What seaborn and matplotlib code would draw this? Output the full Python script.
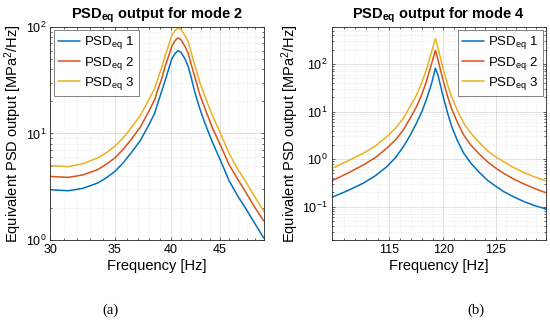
import numpy as np
import pandas as pd
import matplotlib
matplotlib.use("Agg")
import matplotlib.pyplot as plt
import matplotlib.ticker as mticker
import seaborn as sns

# ---------------- data ----------------
series_labels = ["PSD$_{eq}$ 1", "PSD$_{eq}$ 2", "PSD$_{eq}$ 3"]
colors = ["#0072BD", "#D95319", "#EDB120"]

# mode 2
freq_m2 = [30.0, 31.3, 32.4, 33.6, 34.3, 35.0, 35.7, 36.4, 37.2, 37.9, 38.5,
           38.8, 39.1, 39.5, 39.8, 40.1, 40.4, 40.7, 41.0, 41.4, 41.7, 42.0,
           42.4, 42.9, 43.4, 44.2, 45.2, 46.0, 47.0, 48.0, 48.9, 50.0]
psd1_m2 = [2.96, 2.90, 3.05, 3.43, 3.85, 4.4, 5.3, 6.6, 8.6, 11.7, 15.5,
           19.5, 24.0, 32.0, 40.0, 50.0, 56.0, 59.8, 58.0, 50.0, 43.0, 34.0,
           24.0, 17.0, 12.6, 8.3, 5.25, 3.6, 2.56, 1.9, 1.44, 1.04]
psd2_m2 = [3.95, 3.87, 4.08, 4.58, 5.15, 5.9, 7.1, 8.8, 11.5, 15.7, 20.8,
           26.0, 31.5, 43.5, 53.0, 65.6, 74.0, 79.0, 76.0, 65.6, 57.0, 45.0,
           33.5, 23.0, 17.4, 11.3, 7.3, 5.1, 3.68, 2.7, 2.04, 1.5]
psd3_m2 = [4.99, 4.88, 5.2, 5.9, 6.6, 7.6, 9.1, 11.3, 14.8, 20.2, 26.5,
           33.0, 40.0, 55.0, 67.0, 82.8, 92.0, 98.0, 95.0, 82.8, 73.0, 58.0,
           43.0, 30.0, 22.5, 14.8, 9.4, 6.5, 4.57, 3.4, 2.56, 1.85]

# mode 4
freq_m4 = [110.0, 111.3, 112.7, 113.8, 114.8, 115.6, 116.3, 116.9, 117.5,
           118.0, 118.4, 118.9, 119.25, 119.5, 119.9, 120.4, 120.8, 121.3,
           121.9, 122.6, 123.4, 124.2, 125.0, 125.8, 126.8, 127.8, 128.9, 130.0]
psd1_m4 = [0.158, 0.215, 0.31, 0.45, 0.69, 1.08, 1.82, 3.1, 5.7,
           10.0, 17.5, 39.0, 82.0, 58.0, 24.0, 9.2, 4.7, 2.5,
           1.35, 0.82, 0.53, 0.36, 0.27, 0.207, 0.16, 0.128, 0.105, 0.09]
psd2_m4 = [0.35, 0.50, 0.75, 1.08, 1.69, 2.55, 4.1, 7.1, 12.6,
           23.0, 42.0, 102.0, 195.0, 120.0, 52.0, 20.5, 11.0, 6.1,
           3.25, 1.98, 1.28, 0.88, 0.65, 0.50, 0.38, 0.30, 0.24, 0.197]
psd3_m4 = [0.64, 0.90, 1.32, 1.9, 2.95, 4.5, 7.2, 12.6, 22.0,
           41.0, 74.0, 181.0, 345.0, 213.0, 92.0, 36.0, 19.5, 10.8,
           5.8, 3.5, 2.25, 1.5, 1.12, 0.88, 0.66, 0.52, 0.42, 0.35]

titles = ["PSD$_{\\mathbf{eq}}$ output for mode 2", "PSD$_{\\mathbf{eq}}$ output for mode 4"]
xlabel = "Frequency [Hz]"
ylabel = "Equivalent PSD output [MPa$^2$/Hz]"
captions = ["(a)", "(b)"]
xticks_m2 = [30, 35, 40, 45]
xticks_m4 = [115, 120, 125]


def long_df(freq, ys):
    frames = []
    for lab, y in zip(series_labels, ys):
        frames.append(pd.DataFrame({"freq": freq, "psd": y, "series": lab}))
    return pd.concat(frames, ignore_index=True)


df2 = long_df(freq_m2, [psd1_m2, psd2_m2, psd3_m2])
df4 = long_df(freq_m4, [psd1_m4, psd2_m4, psd3_m4])

# ---------------- plotting ----------------
sns.set_theme(style="white")
plt.rcParams["font.family"] = ["Liberation Sans", "DejaVu Sans"]
plt.rcParams["mathtext.fontset"] = "custom"
plt.rcParams["mathtext.rm"] = "Liberation Sans"
plt.rcParams["mathtext.it"] = "Liberation Sans"
plt.rcParams["mathtext.bf"] = "Liberation Sans:bold"
plt.rcParams["text.color"] = "black"
plt.rcParams["axes.labelcolor"] = "black"
plt.rcParams["xtick.color"] = "black"
plt.rcParams["ytick.color"] = "black"

fig = plt.figure(figsize=(5.5, 3.22), dpi=100)
ax1 = fig.add_axes([0.0918, 0.2547, 0.388, 0.6615])
ax2 = fig.add_axes([0.6036, 0.2547, 0.389, 0.6615])

palette = dict(zip(series_labels, colors))

for ax, df, title, xl, xt, yl, legloc in [
    (ax1, df2, titles[0], (30, 50), xticks_m2, (1, 100), "upper left"),
    (ax2, df4, titles[1], (110, 130), xticks_m4, (0.02, 600), "upper right"),
]:
    sns.lineplot(data=df, x="freq", y="psd", hue="series", palette=palette,
                 hue_order=series_labels, ax=ax, linewidth=1.1, estimator=None,
                 sort=True)
    ax.set_xscale("log")
    ax.set_yscale("log")
    ax.set_xlim(*xl)
    ax.set_ylim(*yl)
    ax.xaxis.set_major_locator(mticker.FixedLocator(xt))
    ax.xaxis.set_major_formatter(mticker.FixedFormatter([str(v) for v in xt]))
    ax.xaxis.set_minor_locator(mticker.MultipleLocator(1))
    ax.xaxis.set_minor_formatter(mticker.NullFormatter())
    ax.yaxis.set_major_locator(mticker.LogLocator(base=10))
    ax.yaxis.set_minor_locator(mticker.LogLocator(base=10, subs=np.arange(2, 10)))
    ax.yaxis.set_minor_formatter(mticker.NullFormatter())
    ax.grid(True, which="major", color="#262626", alpha=0.15, linewidth=0.6)
    ax.grid(True, which="minor", color="#262626", alpha=0.12, linewidth=0.5,
            linestyle=":")
    ax.tick_params(which="both", direction="in", length=2.5, width=0.5,
                   color="#262626", labelsize=9, pad=3, top=True, right=True,
                   bottom=True, left=True)
    ax.tick_params(which="minor", length=1.5)
    for sp in ax.spines.values():
        sp.set_color("#262626")
        sp.set_linewidth(0.6)
    ax.set_title(title, fontsize=10.5, fontweight="bold", pad=6, color="black")
    ax.set_xlabel(xlabel, fontsize=10.5, labelpad=2)
    ax.set_ylabel(ylabel, fontsize=10.5, labelpad=1)
    leg = ax.legend(loc=legloc, fontsize=9.5, frameon=True, fancybox=False,
                    borderaxespad=0.25, handlelength=1.7, handletextpad=0.3,
                    labelspacing=0.25, borderpad=0.3)
    leg.get_frame().set_edgecolor("#262626")
    leg.get_frame().set_linewidth(0.5)

fig.text(110 / 550, 1 - 310 / 322, captions[0], ha="center", va="center",
         fontsize=10.5, family=["Liberation Serif", "DejaVu Serif"])
fig.text(476 / 550, 1 - 310 / 322, captions[1], ha="center", va="center",
         fontsize=10.5, family=["Liberation Serif", "DejaVu Serif"])

fig.savefig("out.png", dpi=100)
